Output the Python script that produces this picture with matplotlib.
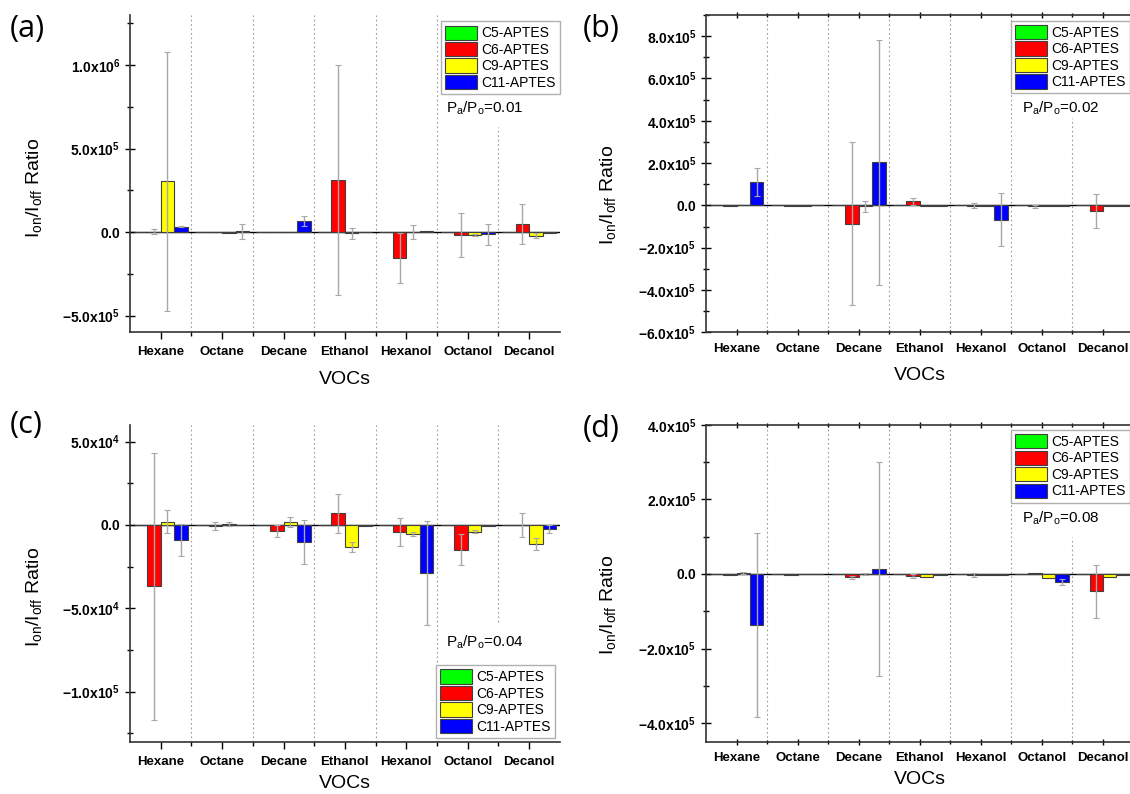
import numpy as np
import matplotlib
matplotlib.use('Agg')
import matplotlib.pyplot as plt
from matplotlib.patches import Patch
import matplotlib.ticker as ticker

plt.rcParams['font.family'] = ['Liberation Sans', 'DejaVu Sans']
plt.rcParams['mathtext.fontset'] = 'custom'
plt.rcParams['mathtext.rm'] = 'Liberation Sans'
plt.rcParams['mathtext.it'] = 'Liberation Sans:italic'
plt.rcParams['mathtext.bf'] = 'Liberation Sans:bold'

vocs = ['Hexane', 'Octane', 'Decane', 'Ethanol', 'Hexanol', 'Octanol', 'Decanol']
series = ['C5-APTES', 'C6-APTES', 'C9-APTES', 'C11-APTES']
colors = ['#00ff00', '#ff0000', '#ffff00', '#0000ff']

# (a) Pa/Po = 0.01
c5_a = [0, 0, 0, 0, 0, 0, 0]
c6_a = [2e3, 0, 0, 3.10e5, -1.56e5, -1.8e4, 4.8e4]
c9_a = [3.04e5, -5e3, 0, -8e3, 0, -1.6e4, -2.1e4]
c11_a = [3.2e4, 4e3, 6.4e4, -2e3, 4e3, -1.4e4, -5e3]
c5_a_err = [0, 0, 0, 0, 0, 0, 0]
c6_a_err = [1.4e4, 0, 0, 6.88e5, 1.48e5, 1.33e5, 1.21e5]
c9_a_err = [7.74e5, 0, 0, 3.3e4, 4.4e4, 6e3, 1.5e4]
c11_a_err = [3e3, 4.6e4, 3e4, 0, 0, 6.5e4, 0]

# (b) Pa/Po = 0.02
c5_b = [0, 0, 0, 0, 0, 0, 0]
c6_b = [-2e3, -2e3, -8.7e4, 1.9e4, -2e3, -4e3, -2.6e4]
c9_b = [2e3, -2e3, -4e3, -5e3, -3e3, -3e3, -5e3]
c11_b = [1.1e5, 0, 2.03e5, -2e3, -6.7e4, -2e3, -3e3]
c5_b_err = [0, 0, 0, 0, 0, 0, 0]
c6_b_err = [0, 0, 3.85e5, 1.6e4, 1.2e4, 8e3, 8.2e4]
c9_b_err = [0, 0, 2.6e4, 0, 0, 0, 0]
c11_b_err = [6.5e4, 0, 5.81e5, 0, 1.25e5, 0, 0]

# (c) Pa/Po = 0.04
c5_c = [0, 0, 0, 0, 0, 0, 0]
c6_c = [-3.68e4, -5e2, -3.6e3, 7.1e3, -4.2e3, -1.48e4, 0]
c9_c = [1.9e3, 5e2, 1.6e3, -1.32e4, -5.4e3, -4e3, -1.15e4]
c11_c = [-9.1e3, -3e2, -1.02e4, -8e2, -2.87e4, -6e2, -2.2e3]
c5_c_err = [0, 0, 0, 0, 0, 0, 0]
c6_c_err = [7.99e4, 2.5e3, 3.6e3, 1.17e4, 8.4e3, 9.2e3, 7.1e3]
c9_c_err = [6.9e3, 1.2e3, 3e3, 2.8e3, 1e3, 1e3, 3.5e3]
c11_c_err = [9.5e3, 0, 1.32e4, 0, 3.13e4, 0, 2.4e3]

# (d) Pa/Po = 0.08
c5_d = [0, 0, 0, 0, 0, 0, 0]
c6_d = [-3e3, -2e3, -9e3, -5e3, -3e3, 2e3, -4.65e4]
c9_d = [2e3, -1e3, -1e3, -8e3, -4e3, -1e4, -8e3]
c11_d = [-1.37e5, -1e3, 1.35e4, -2e3, -3e3, -2.15e4, -3e3]
c5_d_err = [0, 0, 0, 0, 0, 0, 0]
c6_d_err = [0, 0, 4e3, 5e3, 6e3, 0, 7.05e4]
c9_d_err = [3e3, 0, 3e3, 0, 0, 0, 0]
c11_d_err = [2.46e5, 0, 2.87e5, 0, 0, 7e3, 0]


def sci_label(v, pos=None):
    if abs(v) < 1e-9:
        return r'$\mathbf{0.0}$'
    e = int(np.floor(np.log10(abs(v)) + 1e-9))
    m = v / 10 ** e
    return r'$\mathbf{%.1fx10^{%d}}$' % (m, e)


def draw_panel(ax, vals, errs, ylim, major, minor, ratio, leg_loc, leg_anchor,
               txt_xy, last_div, boxed, xpad):
    x = np.arange(len(vocs))
    w = 0.22
    ax.axhline(0, color='k', lw=1.0, zorder=1)
    for i in range(4):
        pos = x + (i - 1.5) * w
        ax.bar(pos, vals[i], w, color=colors[i], edgecolor='#404040', lw=0.8, zorder=2)
        e = np.array(errs[i])
        m = e > 0
        ax.errorbar(pos[m], np.array(vals[i])[m], yerr=e[m], fmt='none',
                    ecolor='#a8a8a8', elinewidth=1.0, capsize=2.2, capthick=0.8, zorder=3)
    # dotted dividers between the VOCs
    for k in range(6):
        lo, hi = 0, 1
        if k == 5:
            lo, hi = last_div
        ax.axvline(k + 0.5, ymin=lo, ymax=hi, color='#9a9a9a', lw=0.8,
                   ls=(0, (1.5, 2.5)), zorder=0)
    ax.set_xlim(-0.5, 6.5)
    ax.set_ylim(*ylim)
    ax.set_xticks(x)
    ax.set_xticklabels(vocs, fontweight='bold', fontsize=9.5)
    ax.xaxis.set_minor_locator(ticker.FixedLocator(x[:-1] + 0.5))
    ax.yaxis.set_major_locator(ticker.MultipleLocator(major))
    ax.yaxis.set_minor_locator(ticker.MultipleLocator(minor))
    ax.yaxis.set_major_formatter(ticker.FuncFormatter(sci_label))
    ax.tick_params(axis='y', which='major', direction='inout', length=7, width=1, labelsize=10)
    ax.tick_params(axis='y', which='minor', direction='inout', length=4, width=1)
    ax.tick_params(axis='x', which='major', direction='out', length=5, width=1, pad=5)
    ax.tick_params(axis='x', which='minor', direction='out', length=3, width=1)
    for s in ax.spines.values():
        s.set_linewidth(1.2)
        s.set_color('#333333')
    if boxed:
        ax.tick_params(axis='x', which='both', top=True, direction='inout')
    else:
        ax.spines['top'].set_visible(False)
        ax.spines['right'].set_visible(False)
    ax.set_xlabel('VOCs', fontsize=14, labelpad=xpad)
    ax.set_ylabel(r'I$_{\rm on}$/I$_{\rm off}$ Ratio', fontsize=14)
    handles = [Patch(facecolor=c, edgecolor='#404040', lw=0.8) for c in colors]
    leg = ax.legend(handles, series, loc=leg_loc, bbox_to_anchor=leg_anchor,
                    borderaxespad=0, fontsize=10, handlelength=2.3, handleheight=1.2,
                    labelspacing=0.12, handletextpad=0.3, borderpad=0.3,
                    fancybox=False, framealpha=1, edgecolor='#b0b0b0')
    leg.get_frame().set_linewidth(1.0)
    ax.text(txt_xy[0], txt_xy[1], r'P$_{\rm a}$/P$_{\rm o}$=' + ratio,
            transform=ax.transAxes, fontsize=11, va='center')


fig = plt.figure(figsize=(11.3, 7.94), dpi=100)

ax_a = fig.add_axes([0.1150, 0.5815, 0.3805, 0.3996])
draw_panel(ax_a, [c5_a, c6_a, c9_a, c11_a], [c5_a_err, c6_a_err, c9_a_err, c11_a_err],
           (-6e5, 1.3e6), 5e5, 2.5e5, '0.01', 'upper right', (1.0, 0.98),
           (0.735, 0.707), (0, 0.647), False, 9)
ax_a.yaxis.set_label_coords(-0.20, 0.455)

ax_b = fig.add_axes([0.6248, 0.5815, 0.3783, 0.3996])
draw_panel(ax_b, [c5_b, c6_b, c9_b, c11_b], [c5_b_err, c6_b_err, c9_b_err, c11_b_err],
           (-6e5, 9e5), 2e5, 1e5, '0.02', 'upper left', (0.713, 0.982),
           (0.739, 0.707), (0, 0.675), True, 9)
ax_b.yaxis.set_label_coords(-0.207, 0.433)

ax_c = fig.add_axes([0.1150, 0.0659, 0.3805, 0.3989])
draw_panel(ax_c, [c5_c, c6_c, c9_c, c11_c], [c5_c_err, c6_c_err, c9_c_err, c11_c_err],
           (-1.3e5, 6e4), 5e4, 2.5e4, '0.04', 'lower left', (0.712, 0.012),
           (0.735, 0.315), (0.378, 1), False, 5)
ax_c.yaxis.set_label_coords(-0.20, 0.457)

ax_d = fig.add_axes([0.6248, 0.0659, 0.3783, 0.3989])
draw_panel(ax_d, [c5_d, c6_d, c9_d, c11_d], [c5_d_err, c6_d_err, c9_d_err, c11_d_err],
           (-4.5e5, 4e5), 2e5, 1e5, '0.08', 'upper left', (0.713, 0.984),
           (0.739, 0.706), (0, 0.646), True, 5)
ax_d.yaxis.set_label_coords(-0.207, 0.432)

# panel letters
for lab, px, py in [('(a)', 10, 29), ('(b)', 583, 29), ('(c)', 10, 425), ('(d)', 583, 429)]:
    fig.text(px / 1130, 1 - py / 794, lab, fontsize=22, family=['Open Sans', 'DejaVu Sans'],
             va='center', ha='left')

fig.savefig('out.png', dpi=100)
